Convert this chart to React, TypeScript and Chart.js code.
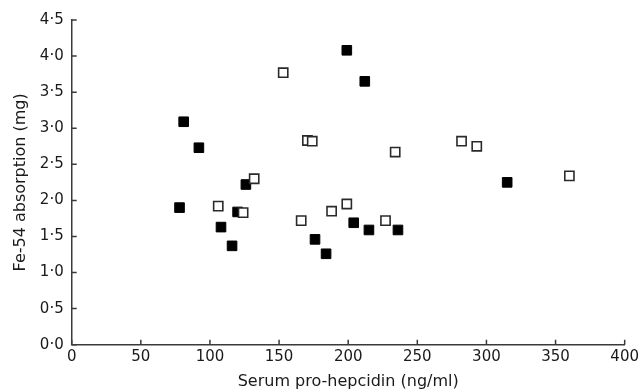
import { useEffect, useRef } from "react";
import { Chart, registerables } from "chart.js";
Chart.register(...registerables);

// Filled squares
const filledX = [199, 212, 81, 92, 126, 78, 120, 108, 116, 176, 184, 204, 215, 236, 315];
const filledY = [4.08, 3.65, 3.09, 2.73, 2.22, 1.9, 1.84, 1.63, 1.37, 1.46, 1.26, 1.69, 1.59, 1.59, 2.25];
// Open squares
const openX = [153, 170.5, 174, 132, 106, 124, 166, 188, 199, 227, 234, 282, 293, 360];
const openY = [3.77, 2.83, 2.82, 2.3, 1.92, 1.83, 1.72, 1.85, 1.95, 1.72, 2.67, 2.82, 2.75, 2.34];

const xTickValues = [0, 50, 100, 150, 200, 250, 300, 350, 400];
const yTickValues = [0, 0.5, 1, 1.5, 2, 2.5, 3, 3.5, 4, 4.5];
const xTitle = "Serum pro-hepcidin (ng/ml)";
const yTitle = "Fe-54 absorption (mg)";

const AXIS = "#3a3a3a";
const TEXT = "#1a1a1a";
const FONT = "'DejaVu Sans', sans-serif";

export default function App() {
  const ref = useRef<HTMLCanvasElement>(null);
  useEffect(() => {
    document.body.style.margin = "0";
    const canvas = ref.current!;
    const inwardTicks = {
      id: "inwardTicks",
      afterDraw(chart: any) {
        const { ctx, scales, chartArea } = chart;
        ctx.save();
        ctx.strokeStyle = AXIS;
        ctx.lineWidth = 1.5;
        ctx.beginPath();
        for (const v of xTickValues) {
          const px = scales.x.getPixelForValue(v);
          ctx.moveTo(px, chartArea.bottom);
          ctx.lineTo(px, chartArea.bottom - 5);
        }
        for (const v of yTickValues) {
          const py = scales.y.getPixelForValue(v);
          ctx.moveTo(chartArea.left, py);
          ctx.lineTo(chartArea.left + 5, py);
        }
        ctx.stroke();
        ctx.restore();
      },
    };
    const chart = new Chart(canvas, {
      type: "scatter",
      data: {
        datasets: [
          {
            label: "open",
            data: openX.map((x, i) => ({ x, y: openY[i] })),
            pointStyle: "rect",
            pointRadius: 6.5,
            backgroundColor: "#ffffff",
            borderColor: "#2a2a2a",
            borderWidth: 1.6,
          },
          {
            label: "filled",
            data: filledX.map((x, i) => ({ x, y: filledY[i] })),
            pointStyle: "rect",
            pointRadius: 6.8,
            backgroundColor: "#000000",
            borderColor: "#000000",
            borderWidth: 1,
          },
        ],
      },
      options: {
        responsive: false,
        animation: false,
        devicePixelRatio: 1,
        layout: { padding: { top: 20, right: 16, bottom: 0, left: 0 } },
        plugins: { legend: { display: false }, tooltip: { enabled: false } },
        scales: {
          x: {
            type: "linear",
            min: 0,
            max: 400,
            afterFit: (s: any) => {
              s.height = 47.3;
            },
            afterBuildTicks: (s: any) => {
              s.ticks = xTickValues.map((v) => ({ value: v }));
            },
            grid: { display: false, drawTicks: false },
            border: { display: true, color: AXIS, width: 1.5 },
            ticks: {
              color: TEXT,
              font: { family: FONT, size: 15 },
              padding: 3,
              maxRotation: 0,
              autoSkip: false,
              callback: (v: any) => String(v),
            },
            title: {
              display: true,
              text: xTitle,
              color: TEXT,
              font: { family: FONT, size: 16 },
              padding: { top: 0, bottom: 1 },
            },
          },
          y: {
            type: "linear",
            min: 0,
            max: 4.5,
            afterFit: (s: any) => {
              s.width = 71.7;
            },
            afterBuildTicks: (s: any) => {
              s.ticks = yTickValues.map((v) => ({ value: v }));
            },
            grid: { display: false, drawTicks: false },
            border: { display: true, color: AXIS, width: 1.5 },
            ticks: {
              color: TEXT,
              font: { family: FONT, size: 15 },
              padding: 8,
              autoSkip: false,
              callback: (v: any) => Number(v).toFixed(1).replace(".", "\u00b7"),
            },
            title: {
              display: true,
              text: yTitle,
              color: TEXT,
              font: { family: FONT, size: 16 },
              padding: { top: 11, bottom: 0 },
            },
          },
        },
      },
      plugins: [inwardTicks],
    } as any);
    return () => chart.destroy();
  }, []);
  return (
    <div style={{ width: 642, height: 392 }}>
      <canvas ref={ref} width={642} height={392} style={{ display: "block" }} />
    </div>
  );
}
